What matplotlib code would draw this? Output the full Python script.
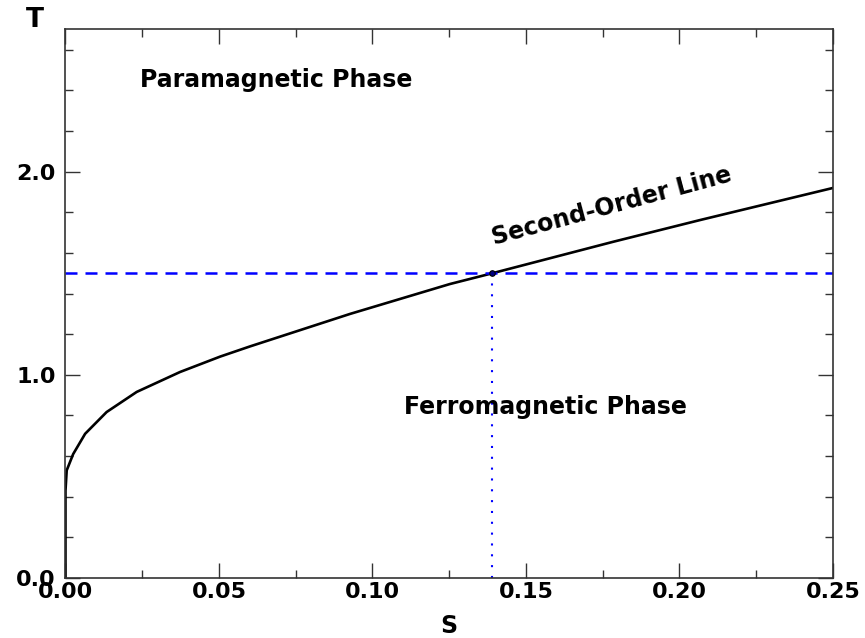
import matplotlib
matplotlib.use("Agg")
import matplotlib.pyplot as plt
from matplotlib.ticker import MultipleLocator

# second-order line
s_vals = [0.0, 0.0, 0.0004, 0.0025, 0.0064, 0.0134, 0.0232, 0.0373, 0.0504,
          0.0601, 0.0927, 0.1252, 0.139, 0.1784, 0.2067, 0.25]
t_vals = [0.0, 0.43, 0.53, 0.61, 0.71, 0.817, 0.916, 1.014, 1.09,
          1.14, 1.30, 1.447, 1.5, 1.655, 1.762, 1.92]

t_crit = 1.5
s_crit = 0.139

x_ticks = [0.0, 0.05, 0.10, 0.15, 0.20, 0.25]
x_labels = ["0.00", "0.05", "0.10", "0.15", "0.20", "0.25"]
y_ticks = [0.0, 1.0, 2.0]
y_labels = ["0.0", "1.0", "2.0"]

plt.rcParams["font.family"] = ["DejaVu Sans"]
plt.rcParams["font.weight"] = "bold"

fig = plt.figure(figsize=(8.65, 6.38), dpi=100)
ax = fig.add_axes([0.0757, 0.094, 0.8873, 0.8598])

ax.plot(s_vals, t_vals, color="black", lw=1.9, solid_joinstyle="round")
ax.axhline(t_crit, color="#0000ff", lw=1.8, dashes=(4.8, 3.2))
ax.plot([s_crit, s_crit], [0, t_crit], color="#0000ff", lw=1.5,
        linestyle=(0, (1, 4.2)))
ax.plot([s_crit], [t_crit], marker="o", ms=4, color="#000080", mec="black", mew=0.8)

ax.set_xlim(0, 0.25)
ax.set_ylim(0, 2.7)

ax.set_xticks(x_ticks)
ax.set_xticklabels(x_labels)
ax.set_yticks(y_ticks)
ax.set_yticklabels(y_labels)
ax.xaxis.set_minor_locator(MultipleLocator(0.025))
ax.yaxis.set_minor_locator(MultipleLocator(0.2))

ax.tick_params(which="both", direction="in", top=True, right=True, color="#333333", width=1)
ax.tick_params(which="major", length=11)
ax.tick_params(which="minor", length=6)
ax.tick_params(axis="x", which="major", pad=3, labelsize=16)
ax.tick_params(axis="y", which="major", pad=7, labelsize=16)
for lab in ax.get_xticklabels() + ax.get_yticklabels():
    lab.set_fontweight("bold")

for sp in ax.spines.values():
    sp.set_color("#333333")
    sp.set_linewidth(1.2)

fig.text(35 / 865, 1 - 20 / 638, "T", fontsize=19, fontweight="bold", ha="center", va="center")
fig.text(449 / 865, 1 - 626 / 638, "S", fontsize=17, fontweight="bold", ha="center", va="center")

ax.text(0.0685, 2.45, "Paramagnetic Phase", fontsize=17, fontweight="bold", ha="center", va="center")
ax.text(0.1563, 0.84, "Ferromagnetic Phase", fontsize=17, fontweight="bold", ha="center", va="center")
ax.text(0.1778, 1.83, "Second-Order Line", fontsize=17, fontweight="bold", ha="center", va="center",
        rotation=15)

fig.savefig("out.png", dpi=100)
